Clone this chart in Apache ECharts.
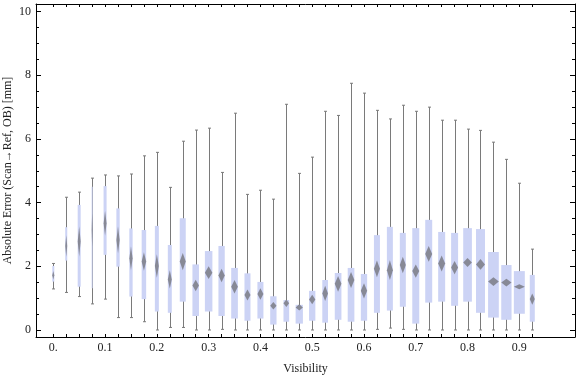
<!DOCTYPE html>
<html>
<head>
<meta charset="utf-8">
<script src="https://cdn.jsdelivr.net/npm/echarts@6/dist/echarts.min.js"></script>
<style>
  html, body { margin: 0; padding: 0; background: #fff; }
  #chart { width: 576px; height: 377px; }
</style>
</head>
<body>
<div id="chart"></div>
<script>
// bin centres (visibility)
const visibility = [0, 0.025, 0.05, 0.075, 0.1, 0.125, 0.15, 0.175, 0.2, 0.225,
    0.25, 0.275, 0.3, 0.325, 0.35, 0.375, 0.4, 0.425, 0.45, 0.475,
    0.5, 0.525, 0.55, 0.575, 0.6, 0.625, 0.65, 0.675, 0.7, 0.725,
    0.75, 0.775, 0.8, 0.825, 0.85, 0.875, 0.9, 0.925];

const whiskerLow = [1.29, 1.18, 1.05, 0.82, 0.97, 0.39, 0.39, 0.26, 0.00, 0.08,
    0.08, 0.00, 0.00, 0.02, 0.00, 0.00, 0.00, 0.00, 0.00, 0.00,
    0.00, 0.00, 0.00, 0.00, 0.00, 0.02, 0.06, 0.02, 0.00, 0.00,
    0.00, 0.00, 0.00, 0.00, 0.00, 0.00, 0.00, 0.00];
const quart1 = [1.52, 2.18, 1.36, 1.31, 2.36, 1.99, 1.05, 0.97, 0.58, 0.54,
    0.89, 0.44, 0.58, 0.44, 0.36, 0.29, 0.36, 0.17, 0.26, 0.20,
    0.29, 0.23, 0.32, 0.26, 0.29, 0.54, 0.61, 0.73, 0.20, 0.86,
    0.89, 0.76, 0.89, 0.54, 0.39, 0.32, 0.51, 0.26];
const quart3 = [2.01, 3.23, 3.93, 4.50, 4.52, 3.82, 3.19, 3.14, 3.27, 2.67,
    3.51, 2.06, 2.48, 2.64, 1.95, 1.78, 1.51, 1.06, 0.94, 0.79,
    1.23, 1.57, 1.79, 1.95, 1.76, 2.98, 3.24, 3.05, 3.20, 3.46,
    3.08, 3.05, 3.20, 3.17, 2.45, 2.04, 1.85, 1.73];
const whiskerHigh = [2.09, 4.17, 4.33, 4.77, 4.87, 4.84, 4.90, 5.47, 5.58, 4.48,
    5.93, 6.28, 6.34, 4.95, 6.81, 4.26, 4.39, 4.11, 7.09, 4.92,
    5.43, 6.87, 6.74, 7.75, 7.44, 6.90, 6.63, 7.06, 6.87, 7.00,
    6.59, 6.59, 6.31, 6.27, 5.90, 5.36, 4.61, 2.54];
// mean and half-height of its confidence diamond
const meanErr = [1.72, 2.64, 2.78, 3.14, 3.35, 2.83, 2.25, 2.15, 2.01, 1.59,
    2.15, 1.40, 1.80, 1.71, 1.36, 1.10, 1.13, 0.76, 0.84, 0.71,
    0.96, 1.15, 1.45, 1.57, 1.23, 1.92, 1.88, 2.04, 1.85, 2.39,
    2.09, 1.96, 2.12, 2.06, 1.52, 1.49, 1.36, 0.97];
const meanCI = [0.13, 0.34, 0.47, 0.52, 0.39, 0.42, 0.37, 0.29, 0.37, 0.29,
    0.27, 0.18, 0.20, 0.21, 0.21, 0.17, 0.18, 0.12, 0.12, 0.10,
    0.15, 0.24, 0.25, 0.25, 0.24, 0.26, 0.31, 0.26, 0.21, 0.25,
    0.25, 0.21, 0.14, 0.17, 0.14, 0.12, 0.08, 0.18];
// box width in visibility units (bin weight)
const binWidth = [0.0039, 0.0039, 0.0058, 0.0019, 0.0058, 0.0064, 0.0064, 0.0087, 0.0077, 0.0077,
    0.0116, 0.0126, 0.0145, 0.0122, 0.0129, 0.0116, 0.0116, 0.0122, 0.0110, 0.0141,
    0.0122, 0.0110, 0.0129, 0.0129, 0.0122, 0.0116, 0.0116, 0.0116, 0.0135, 0.0135,
    0.0135, 0.0135, 0.0168, 0.0174, 0.0207, 0.0199, 0.0212, 0.0097];

const xLabelValues = [0, 0.1, 0.2, 0.3, 0.4, 0.5, 0.6, 0.7, 0.8, 0.9];
const yLabelValues = [0, 2, 4, 6, 8, 10];
const yMinorValues = [0, 0.5, 1, 1.5, 2, 2.5, 3, 3.5, 4, 4.5, 5, 5.5, 6, 6.5, 7, 7.5, 8, 8.5, 9, 9.5, 10];

const dom = document.getElementById('chart');
const chart = echarts.init(dom, null, { renderer: 'canvas' });

const seriesData = visibility.map((v, i) => [v, whiskerLow[i], quart1[i], quart3[i], whiskerHigh[i], meanErr[i], meanCI[i], binWidth[i]]);

const font = '"Liberation Serif", "Times New Roman", serif';
const xMin = -0.0334, xMax = 1.0075;
const yMin = -0.22, yMax = 10.24;

function renderBox(params, api) {
    const x = api.value(0);
    const pLow = api.coord([x, api.value(1)]);
    const pQ1 = api.coord([x, api.value(2)]);
    const pQ3 = api.coord([x, api.value(3)]);
    const pHigh = api.coord([x, api.value(4)]);
    const mean = api.value(5), ci = api.value(6);
    const w = api.size([api.value(7), 0])[0];
    const cx = Math.round(pLow[0]) + 0.5;
    const pm = api.coord([x, mean]);
    const pt = api.coord([x, mean + ci]);
    const pb = api.coord([x, mean - ci]);
    const grey = '#7a7a7a';
    return {
        type: 'group',
        children: [
            { type: 'line', shape: { x1: cx, y1: pLow[1], x2: cx, y2: pHigh[1] }, style: { stroke: grey, lineWidth: 1 } },
            { type: 'line', shape: { x1: cx - 1.5, y1: pLow[1], x2: cx + 1.5, y2: pLow[1] }, style: { stroke: grey, lineWidth: 1 } },
            { type: 'line', shape: { x1: cx - 1.5, y1: pHigh[1], x2: cx + 1.5, y2: pHigh[1] }, style: { stroke: grey, lineWidth: 1 } },
            { type: 'rect', shape: { x: pQ3[0] - w / 2, y: pQ3[1], width: w, height: pQ1[1] - pQ3[1] }, style: { fill: '#ccd3f5' } },
            { type: 'polygon', shape: { points: [[pm[0] - w / 2, pm[1]], [pt[0], pt[1]], [pm[0] + w / 2, pm[1]], [pb[0], pb[1]]] },
              style: { fill: 'rgba(105,105,110,0.7)' } }
        ]
    };
}

const tickStyle = { color: '#000', width: 1 };
const frameLine = { show: true, onZero: false, lineStyle: { color: '#000', width: 1 } };

const option = {
    animation: false,
    textStyle: { fontFamily: font },
    grid: { left: 36, right: 1, top: 4, bottom: 40, containLabel: false, outerBoundsMode: 'none' },
    xAxis: [
        {
            type: 'value', position: 'bottom', min: xMin, max: xMax,
            name: 'Visibility', nameLocation: 'middle', nameGap: 26, nameMoveOverlap: false,
            nameTextStyle: { fontFamily: font, fontSize: 12, color: '#222' },
            axisLine: frameLine,
            axisTick: { show: true, inside: true, length: 3, lineStyle: tickStyle, customValues: visibility },
            axisLabel: { customValues: xLabelValues, fontFamily: font, fontSize: 12, color: '#222', margin: 5,
                formatter: v => (v === 0 ? '0.' : v.toFixed(1)) },
            splitLine: { show: false }
        },
        {
            type: 'value', position: 'top', min: xMin, max: xMax,
            axisLine: frameLine,
            axisTick: { show: true, inside: true, length: 3, lineStyle: tickStyle, customValues: visibility },
            axisLabel: { show: false },
            splitLine: { show: false }
        }
    ],
    yAxis: [
        {
            type: 'value', position: 'left', min: yMin, max: yMax,
            name: 'Absolute Error (Scan\u2192Ref, OB) [mm]', nameLocation: 'middle', nameGap: 22, nameMoveOverlap: false,
            nameTextStyle: { fontFamily: font, fontSize: 12, color: '#222' },
            axisLine: frameLine,
            axisTick: { show: true, inside: true, length: 5, lineStyle: tickStyle, customValues: yLabelValues },
            axisLabel: { customValues: yLabelValues, fontFamily: font, fontSize: 12, color: '#222', margin: 5 },
            splitLine: { show: false }
        },
        {
            type: 'value', position: 'left', min: yMin, max: yMax,
            axisLine: { show: false, onZero: false },
            axisTick: { show: true, inside: true, length: 3, lineStyle: tickStyle, customValues: yMinorValues },
            axisLabel: { show: false },
            splitLine: { show: false }
        },
        {
            type: 'value', position: 'right', min: yMin, max: yMax,
            axisLine: frameLine,
            axisTick: { show: true, inside: true, length: 5, lineStyle: tickStyle, customValues: yLabelValues },
            axisLabel: { show: false },
            splitLine: { show: false }
        },
        {
            type: 'value', position: 'right', min: yMin, max: yMax,
            axisLine: { show: false, onZero: false },
            axisTick: { show: true, inside: true, length: 3, lineStyle: tickStyle, customValues: yMinorValues },
            axisLabel: { show: false },
            splitLine: { show: false }
        }
    ],
    series: [
        {
            type: 'custom',
            xAxisIndex: 0,
            yAxisIndex: 0,
            renderItem: renderBox,
            encode: { x: 0, y: [1, 2, 3, 4] },
            data: seriesData,
            clip: true
        }
    ]
};

chart.setOption(option);
window.addEventListener('resize', chart.resize);
</script>
</body>
</html>
